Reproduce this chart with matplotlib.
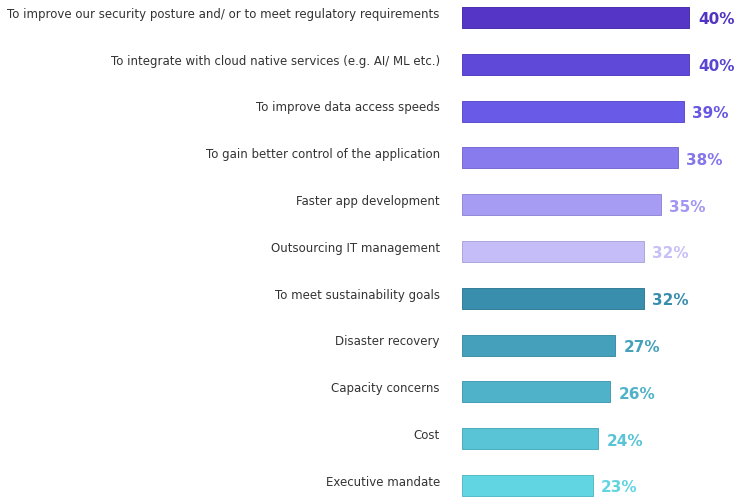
import matplotlib
matplotlib.use("Agg")
import matplotlib.pyplot as plt
from matplotlib.colors import to_rgb

reasons = [
    "To improve our security posture and/ or to meet regulatory requirements",
    "To integrate with cloud native services (e.g. AI/ ML etc.)",
    "To improve data access speeds",
    "To gain better control of the application",
    "Faster app development",
    "Outsourcing IT management",
    "To meet sustainability goals",
    "Disaster recovery",
    "Capacity concerns",
    "Cost",
    "Executive mandate",
]
shares = [40, 40, 39, 38, 35, 32, 32, 27, 26, 24, 23]

bar_colors = ["#5535c6", "#5f49d8", "#6a5ae8", "#887bee", "#a69cf4", "#c4bdf8",
              "#3a8ead", "#45a1bb", "#4fb2c9", "#59c4d6", "#62d5e2"]
label_colors = ["#5033c0", "#5a45d2", "#6656e2", "#8376ea", "#a296f2", "#c7c0f7",
                "#3a8ead", "#45a1bb", "#4fb2c9", "#59c4d6", "#62d5e2"]


def darker(c, f=0.88):
    r, g, b = to_rgb(c)
    return (r * f, g * f, b * f)


fig = plt.figure(figsize=(7.49, 4.97), dpi=100)
ax = fig.add_axes([462 / 749, 0, 1 - 462 / 749, 1])

pos = list(range(len(reasons)))
ax.barh(pos, shares, height=0.45, color=bar_colors,
        edgecolor=[darker(c) for c in bar_colors], linewidth=0.7)

ax.set_xlim(0, 50.5)
ax.set_ylim(10.245, -0.374)
ax.axis("off")

for i, (name, v) in enumerate(zip(reasons, shares)):
    ax.text(-3.9, i - 0.07, name, ha="right", va="center",
            fontsize=8.5, color="#333333", clip_on=False)
    ax.text(v + 1.5, i + 0.05, f"{v}%", ha="left", va="center",
            fontsize=11, fontweight="bold", color=label_colors[i])

fig.savefig("out.png", dpi=100, facecolor="white")
